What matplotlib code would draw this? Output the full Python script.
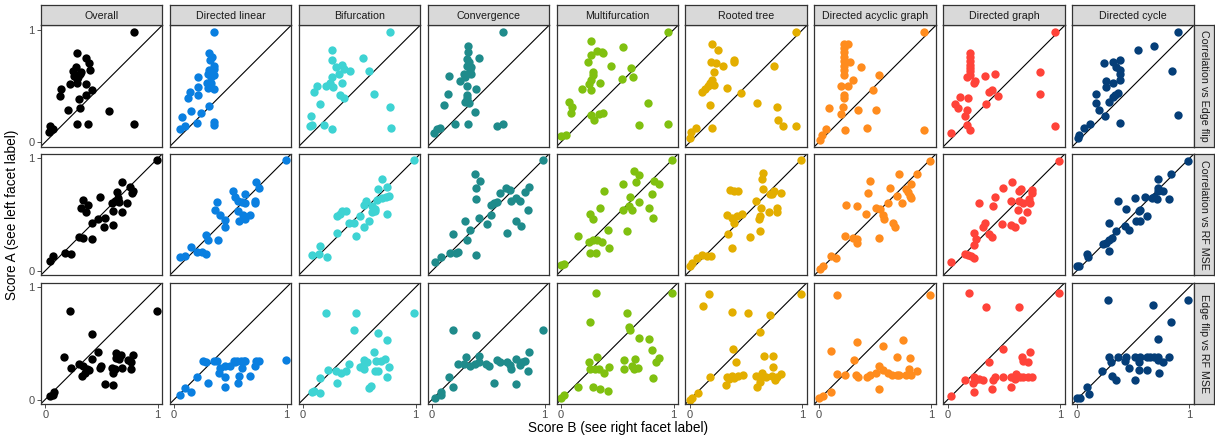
import numpy as np
import matplotlib
matplotlib.use("Agg")
import matplotlib.pyplot as plt

plt.rcParams['font.family'] = ['Liberation Sans', 'DejaVu Sans']

# facet labels
structures = ["Overall", "Directed linear", "Bifurcation", "Convergence", "Multifurcation",
              "Rooted tree", "Directed acyclic graph", "Directed graph", "Directed cycle"]
comparisons = ["Correlation vs Edge flip", "Correlation vs RF MSE", "Edge flip vs RF MSE"]
colors = ["#000000", "#0A7FE0", "#3ED3D3", "#1F8B8B", "#80C010",
          "#E3AE00", "#FF8C1E", "#FF4339", "#053E78"]

# (score B, score A) pairs
# --- row 1: Correlation vs Edge flip
ce_overall = [(0.79, 0.98), (0.28, 0.79), (0.36, 0.75), (0.39, 0.70), (0.27, 0.67), (0.40, 0.64),
              (0.31, 0.61), (0.26, 0.59), (0.28, 0.56), (0.22, 0.52), (0.28, 0.53), (0.36, 0.52),
              (0.14, 0.47), (0.42, 0.46), (0.13, 0.41), (0.36, 0.42), (0.30, 0.38), (0.20, 0.29),
              (0.31, 0.30), (0.57, 0.28), (0.28, 0.16), (0.38, 0.16), (0.79, 0.16), (0.04, 0.14),
              (0.07, 0.12), (0.03, 0.09), (0.32, 0.62), (0.29, 0.58), (0.25, 0.63)]
ce_linear = [(0.35, 0.98), (0.31, 0.79), (0.34, 0.76), (0.32, 0.73), (0.35, 0.68), (0.31, 0.64),
             (0.35, 0.65), (0.30, 0.61), (0.35, 0.60), (0.33, 0.58), (0.21, 0.58), (0.29, 0.53),
             (0.33, 0.53), (0.21, 0.49), (0.30, 0.48), (0.35, 0.47), (0.14, 0.45), (0.21, 0.42),
             (0.12, 0.39), (0.31, 0.32), (0.15, 0.28), (0.24, 0.26), (0.07, 0.22), (0.20, 0.17),
             (0.35, 0.18), (0.35, 0.15), (0.10, 0.14), (0.05, 0.12)]
ce_bifurc = [(0.77, 0.98), (0.26, 0.82), (0.26, 0.73), (0.53, 0.75), (0.35, 0.69), (0.29, 0.67),
             (0.36, 0.65), (0.42, 0.63), (0.59, 0.63), (0.32, 0.61), (0.26, 0.58), (0.24, 0.53),
             (0.35, 0.53), (0.12, 0.50), (0.20, 0.50), (0.27, 0.49), (0.10, 0.45), (0.33, 0.42),
             (0.63, 0.43), (0.36, 0.39), (0.15, 0.34), (0.77, 0.31), (0.07, 0.23), (0.08, 0.15),
             (0.06, 0.14), (0.19, 0.15), (0.26, 0.12), (0.78, 0.13)]
ce_converg = [(0.63, 0.98), (0.32, 0.86), (0.32, 0.80), (0.42, 0.75), (0.31, 0.74), (0.33, 0.71),
              (0.31, 0.68), (0.35, 0.67), (0.34, 0.64), (0.28, 0.61), (0.35, 0.61), (0.15, 0.59),
              (0.29, 0.58), (0.25, 0.54), (0.31, 0.50), (0.39, 0.47), (0.14, 0.43), (0.31, 0.42),
              (0.31, 0.39), (0.29, 0.36), (0.33, 0.35), (0.11, 0.33), (0.38, 0.27), (0.20, 0.16),
              (0.32, 0.16), (0.58, 0.14), (0.63, 0.16), (0.07, 0.13), (0.04, 0.12), (0.02, 0.08)]
ce_multi = [(0.95, 0.98), (0.27, 0.90), (0.55, 0.85), (0.32, 0.81), (0.37, 0.79), (0.27, 0.78),
            (0.24, 0.71), (0.44, 0.68), (0.62, 0.66), (0.28, 0.60), (0.64, 0.58), (0.27, 0.55),
            (0.54, 0.56), (0.35, 0.53), (0.25, 0.52), (0.19, 0.47), (0.27, 0.46), (0.07, 0.36),
            (0.10, 0.31), (0.77, 0.35), (0.09, 0.26), (0.27, 0.24), (0.34, 0.25), (0.37, 0.26),
            (0.29, 0.20), (0.69, 0.15), (0.95, 0.16), (0.04, 0.06), (0.00, 0.05), (0.28, 0.62),
            (0.36, 0.80)]
ce_rooted = [(0.94, 0.98), (0.20, 0.87), (0.25, 0.82), (0.19, 0.71), (0.23, 0.70), (0.29, 0.68),
             (0.39, 0.73), (0.75, 0.68), (0.21, 0.62), (0.20, 0.55), (0.18, 0.53), (0.21, 0.51),
             (0.16, 0.50), (0.33, 0.48), (0.13, 0.47), (0.11, 0.45), (0.45, 0.44), (0.18, 0.33),
             (0.60, 0.35), (0.77, 0.31), (0.78, 0.20), (0.83, 0.14), (0.94, 0.14), (0.20, 0.13),
             (0.05, 0.13), (0.01, 0.09), (0.00, 0.04), (0.39, 0.71)]
ce_dag = [(0.93, 0.98), (0.22, 0.87), (0.26, 0.87), (0.22, 0.84), (0.22, 0.80), (0.22, 0.76),
          (0.22, 0.72), (0.22, 0.68), (0.22, 0.64), (0.22, 0.60), (0.28, 0.71), (0.37, 0.67),
          (0.53, 0.60), (0.30, 0.55), (0.20, 0.50), (0.26, 0.50), (0.48, 0.46), (0.22, 0.42),
          (0.22, 0.39), (0.09, 0.30), (0.21, 0.31), (0.35, 0.29), (0.51, 0.29), (0.20, 0.25),
          (0.06, 0.12), (0.23, 0.11), (0.43, 0.13), (0.93, 0.11), (0.03, 0.06), (0.01, 0.02)]
ce_graph = [(0.95, 0.98), (0.20, 0.79), (0.20, 0.76), (0.20, 0.72), (0.20, 0.69), (0.20, 0.66),
            (0.20, 0.63), (0.20, 0.60), (0.17, 0.58), (0.23, 0.53), (0.24, 0.54), (0.33, 0.59),
            (0.42, 0.61), (0.82, 0.62), (0.37, 0.45), (0.39, 0.46), (0.45, 0.41), (0.82, 0.43),
            (0.11, 0.40), (0.18, 0.39), (0.34, 0.34), (0.06, 0.34), (0.09, 0.30), (0.17, 0.29),
            (0.15, 0.23), (0.17, 0.15), (0.20, 0.11), (0.95, 0.14), (0.03, 0.08)]
ce_cycle = [(0.90, 0.98), (0.69, 0.86), (0.54, 0.82), (0.85, 0.63), (0.38, 0.73), (0.32, 0.71),
            (0.24, 0.70), (0.35, 0.67), (0.38, 0.64), (0.38, 0.61), (0.38, 0.55), (0.32, 0.53),
            (0.26, 0.54), (0.26, 0.49), (0.37, 0.44), (0.34, 0.42), (0.32, 0.40), (0.17, 0.43),
            (0.17, 0.35), (0.29, 0.36), (0.20, 0.29), (0.25, 0.23), (0.90, 0.24), (0.38, 0.17),
            (0.12, 0.16), (0.06, 0.13), (0.02, 0.06), (0.01, 0.04)]

# --- row 2: Correlation vs RF MSE
cr_overall = [(0.99, 0.99), (0.68, 0.79), (0.75, 0.75), (0.77, 0.69), (0.78, 0.71), (0.64, 0.70),
              (0.49, 0.66), (0.34, 0.63), (0.38, 0.59), (0.32, 0.56), (0.36, 0.52), (0.65, 0.65),
              (0.62, 0.62), (0.59, 0.60), (0.66, 0.61), (0.73, 0.60), (0.60, 0.53), (0.68, 0.52),
              (0.47, 0.46), (0.53, 0.47), (0.42, 0.43), (0.52, 0.39), (0.60, 0.41), (0.30, 0.30),
              (0.34, 0.29), (0.42, 0.28), (0.18, 0.16), (0.23, 0.15), (0.07, 0.13), (0.04, 0.09)]
cr_linear = [(0.99, 0.99), (0.73, 0.79), (0.75, 0.74), (0.52, 0.71), (0.63, 0.68), (0.54, 0.66),
             (0.72, 0.62), (0.72, 0.60), (0.57, 0.62), (0.60, 0.61), (0.63, 0.60), (0.38, 0.61),
             (0.36, 0.54), (0.41, 0.50), (0.57, 0.53), (0.61, 0.50), (0.67, 0.50), (0.63, 0.46),
             (0.58, 0.44), (0.45, 0.45), (0.45, 0.39), (0.28, 0.32), (0.30, 0.27), (0.39, 0.27),
             (0.15, 0.21), (0.20, 0.17), (0.25, 0.17), (0.28, 0.15), (0.05, 0.12), (0.10, 0.13)]
cr_bifurc = [(0.99, 0.99), (0.70, 0.82), (0.67, 0.73), (0.75, 0.75), (0.76, 0.67), (0.74, 0.66),
             (0.70, 0.65), (0.66, 0.63), (0.56, 0.62), (0.54, 0.59), (0.61, 0.58), (0.64, 0.55),
             (0.64, 0.53), (0.75, 0.51), (0.61, 0.52), (0.30, 0.49), (0.33, 0.51), (0.38, 0.53),
             (0.51, 0.49), (0.41, 0.43), (0.45, 0.43), (0.59, 0.44), (0.54, 0.39), (0.30, 0.34),
             (0.47, 0.31), (0.15, 0.22), (0.08, 0.14), (0.14, 0.15), (0.21, 0.12), (0.35, 0.53)]
cr_converg = [(0.99, 0.99), (0.38, 0.86), (0.43, 0.80), (0.39, 0.74), (0.39, 0.64), (0.60, 0.69),
              (0.66, 0.74), (0.69, 0.72), (0.86, 0.75), (0.83, 0.70), (0.52, 0.59), (0.55, 0.60),
              (0.58, 0.61), (0.75, 0.65), (0.70, 0.62), (0.78, 0.62), (0.85, 0.54), (0.52, 0.50),
              (0.42, 0.47), (0.49, 0.42), (0.29, 0.44), (0.75, 0.44), (0.79, 0.40), (0.34, 0.36),
              (0.67, 0.34), (0.19, 0.33), (0.31, 0.27), (0.16, 0.16), (0.21, 0.16), (0.23, 0.17),
              (0.39, 0.14), (0.08, 0.12), (0.03, 0.08)]
cr_multi = [(0.99, 0.99), (0.65, 0.89), (0.69, 0.85), (0.67, 0.79), (0.83, 0.80), (0.87, 0.77),
            (0.55, 0.77), (0.38, 0.71), (0.61, 0.66), (0.81, 0.68), (0.69, 0.61), (0.60, 0.58),
            (0.63, 0.54), (0.55, 0.54), (0.78, 0.56), (0.82, 0.47), (0.35, 0.56), (0.26, 0.51),
            (0.28, 0.46), (0.42, 0.36), (0.59, 0.35), (0.15, 0.31), (0.25, 0.26), (0.28, 0.27),
            (0.32, 0.27), (0.36, 0.26), (0.43, 0.20), (0.26, 0.16), (0.31, 0.16), (0.00, 0.05),
            (0.03, 0.06)]
cr_rooted = [(0.99, 0.99), (0.65, 0.87), (0.64, 0.82), (0.36, 0.72), (0.39, 0.71), (0.43, 0.71),
             (0.65, 0.73), (0.71, 0.68), (0.75, 0.71), (0.81, 0.69), (0.73, 0.68), (0.59, 0.62),
             (0.63, 0.56), (0.77, 0.56), (0.70, 0.52), (0.77, 0.52), (0.33, 0.50), (0.37, 0.47),
             (0.42, 0.49), (0.46, 0.51), (0.62, 0.49), (0.61, 0.46), (0.39, 0.43), (0.34, 0.33),
             (0.62, 0.35), (0.53, 0.30), (0.37, 0.20), (0.11, 0.14), (0.15, 0.13), (0.19, 0.13),
             (0.06, 0.11), (0.02, 0.07), (0.00, 0.04)]
cr_dag = [(0.99, 0.98), (0.45, 0.80), (0.71, 0.86), (0.87, 0.86), (0.82, 0.77), (0.63, 0.74),
          (0.44, 0.69), (0.69, 0.67), (0.77, 0.73), (0.79, 0.70), (0.81, 0.67), (0.82, 0.65),
          (0.74, 0.60), (0.61, 0.60), (0.24, 0.59), (0.34, 0.58), (0.51, 0.56), (0.54, 0.55),
          (0.42, 0.51), (0.57, 0.50), (0.58, 0.46), (0.66, 0.43), (0.68, 0.39), (0.23, 0.31),
          (0.30, 0.29), (0.34, 0.28), (0.34, 0.25), (0.53, 0.29), (0.11, 0.13), (0.15, 0.11),
          (0.04, 0.04), (0.01, 0.02)]
cr_graph = [(0.99, 0.98), (0.57, 0.79), (0.49, 0.74), (0.63, 0.71), (0.65, 0.73), (0.75, 0.72),
            (0.75, 0.69), (0.42, 0.66), (0.28, 0.60), (0.40, 0.58), (0.56, 0.62), (0.63, 0.62),
            (0.67, 0.60), (0.72, 0.64), (0.73, 0.60), (0.62, 0.54), (0.70, 0.52), (0.66, 0.45),
            (0.48, 0.42), (0.56, 0.41), (0.60, 0.39), (0.33, 0.43), (0.31, 0.39), (0.37, 0.33),
            (0.39, 0.30), (0.23, 0.34), (0.25, 0.28), (0.23, 0.23), (0.15, 0.15), (0.18, 0.14),
            (0.21, 0.13), (0.23, 0.11), (0.03, 0.08)]
cr_cycle = [(0.99, 0.98), (0.72, 0.82), (0.84, 0.86), (0.72, 0.74), (0.72, 0.71), (0.77, 0.71),
            (0.61, 0.66), (0.67, 0.65), (0.71, 0.64), (0.69, 0.66), (0.82, 0.64), (0.52, 0.65),
            (0.37, 0.62), (0.44, 0.55), (0.55, 0.53), (0.56, 0.54), (0.62, 0.49), (0.53, 0.44),
            (0.56, 0.44), (0.29, 0.43), (0.43, 0.40), (0.46, 0.36), (0.35, 0.35), (0.31, 0.29),
            (0.29, 0.27), (0.23, 0.24), (0.26, 0.25), (0.29, 0.18), (0.09, 0.15), (0.10, 0.12),
            (0.00, 0.04), (0.02, 0.04)]

# --- row 3: Edge flip vs RF MSE
er_overall = [(0.22, 0.79), (0.99, 0.79), (0.42, 0.58), (0.17, 0.38), (0.47, 0.42), (0.63, 0.41),
              (0.67, 0.40), (0.78, 0.40), (0.42, 0.36), (0.63, 0.37), (0.66, 0.36), (0.74, 0.35),
              (0.76, 0.33), (0.30, 0.32), (0.34, 0.30), (0.37, 0.27), (0.39, 0.26), (0.33, 0.21),
              (0.35, 0.24), (0.23, 0.28), (0.50, 0.30), (0.49, 0.28), (0.59, 0.28), (0.62, 0.27),
              (0.68, 0.28), (0.76, 0.27), (0.60, 0.24), (0.53, 0.14), (0.60, 0.13), (0.08, 0.07),
              (0.07, 0.04), (0.04, 0.03)]
er_linear = [(0.99, 0.35), (0.26, 0.34), (0.28, 0.33), (0.35, 0.34), (0.38, 0.34), (0.53, 0.34),
             (0.54, 0.33), (0.56, 0.34), (0.59, 0.34), (0.62, 0.34), (0.63, 0.34), (0.73, 0.34),
             (0.75, 0.34), (0.72, 0.30), (0.45, 0.30), (0.50, 0.30), (0.60, 0.28), (0.41, 0.28),
             (0.40, 0.24), (0.20, 0.20), (0.45, 0.20), (0.58, 0.21), (0.67, 0.21), (0.30, 0.15),
             (0.57, 0.15), (0.45, 0.11), (0.10, 0.10), (0.15, 0.07), (0.05, 0.04)]
er_bifurc = [(0.20, 0.77), (0.47, 0.77), (0.99, 0.77), (0.45, 0.62), (0.67, 0.59), (0.75, 0.53),
             (0.63, 0.42), (0.54, 0.35), (0.57, 0.33), (0.53, 0.30), (0.54, 0.27), (0.41, 0.32),
             (0.65, 0.34), (0.69, 0.34), (0.73, 0.36), (0.51, 0.29), (0.76, 0.29), (0.64, 0.25),
             (0.67, 0.25), (0.75, 0.20), (0.22, 0.26), (0.29, 0.25), (0.34, 0.24), (0.38, 0.25),
             (0.15, 0.19), (0.30, 0.15), (0.59, 0.10), (0.60, 0.12), (0.08, 0.07), (0.10, 0.08),
             (0.15, 0.06)]
er_converg = [(0.99, 0.62), (0.19, 0.62), (0.39, 0.57), (0.42, 0.39), (0.86, 0.42), (0.30, 0.38),
              (0.23, 0.32), (0.28, 0.32), (0.34, 0.30), (0.38, 0.32), (0.42, 0.33), (0.48, 0.32),
              (0.51, 0.30), (0.58, 0.35), (0.60, 0.33), (0.67, 0.33), (0.69, 0.31), (0.70, 0.27),
              (0.75, 0.36), (0.78, 0.31), (0.80, 0.33), (0.83, 0.34), (0.85, 0.25), (0.15, 0.20),
              (0.55, 0.15), (0.75, 0.14), (0.19, 0.11), (0.08, 0.07), (0.08, 0.04), (0.03, 0.01)]
er_multi = [(0.31, 0.95), (0.99, 0.95), (0.59, 0.77), (0.26, 0.69), (0.60, 0.65), (0.61, 0.62),
            (0.69, 0.55), (0.78, 0.54), (0.81, 0.44), (0.87, 0.37), (0.84, 0.33), (0.32, 0.38),
            (0.25, 0.33), (0.56, 0.35), (0.66, 0.36), (0.63, 0.30), (0.65, 0.27), (0.68, 0.28),
            (0.56, 0.27), (0.26, 0.27), (0.30, 0.27), (0.34, 0.27), (0.38, 0.24), (0.43, 0.29),
            (0.82, 0.19), (0.15, 0.11), (0.28, 0.11), (0.35, 0.09), (0.42, 0.08), (0.03, 0.04),
            (0.00, 0.01)]
er_rooted = [(0.17, 0.94), (0.99, 0.94), (0.12, 0.83), (0.37, 0.78), (0.52, 0.77), (0.71, 0.75),
             (0.62, 0.60), (0.38, 0.45), (0.66, 0.39), (0.74, 0.39), (0.41, 0.33), (0.74, 0.29),
             (0.18, 0.20), (0.33, 0.20), (0.37, 0.21), (0.43, 0.21), (0.47, 0.22), (0.35, 0.18),
             (0.39, 0.19), (0.32, 0.13), (0.64, 0.24), (0.59, 0.21), (0.62, 0.20), (0.68, 0.20),
             (0.73, 0.21), (0.77, 0.20), (0.81, 0.23), (0.76, 0.17), (0.62, 0.16), (0.60, 0.11),
             (0.07, 0.06), (0.02, 0.01), (0.00, 0.00)]
er_dag = [(0.16, 0.93), (0.99, 0.93), (0.11, 0.43), (0.34, 0.51), (0.57, 0.48), (0.75, 0.53),
          (0.31, 0.35), (0.69, 0.38), (0.81, 0.37), (0.53, 0.30), (0.16, 0.23), (0.23, 0.22),
          (0.33, 0.22), (0.35, 0.20), (0.43, 0.20), (0.45, 0.22), (0.51, 0.24), (0.57, 0.26),
          (0.61, 0.24), (0.65, 0.22), (0.69, 0.22), (0.71, 0.22), (0.77, 0.22), (0.80, 0.27),
          (0.82, 0.22), (0.87, 0.25), (0.53, 0.09), (0.11, 0.07), (0.04, 0.03), (0.00, 0.01)]
er_graph = [(0.19, 0.95), (0.99, 0.95), (0.34, 0.82), (0.63, 0.82), (0.49, 0.45), (0.73, 0.42),
            (0.66, 0.38), (0.67, 0.34), (0.71, 0.33), (0.37, 0.33), (0.15, 0.17), (0.23, 0.20),
            (0.24, 0.17), (0.22, 0.15), (0.28, 0.18), (0.31, 0.17), (0.40, 0.17), (0.42, 0.20),
            (0.49, 0.20), (0.56, 0.20), (0.60, 0.18), (0.61, 0.23), (0.64, 0.20), (0.67, 0.20),
            (0.71, 0.20), (0.75, 0.20), (0.23, 0.07), (0.39, 0.09), (0.56, 0.11), (0.03, 0.03)]
er_cycle = [(0.28, 0.89), (0.99, 0.89), (0.68, 0.84), (0.84, 0.69), (0.72, 0.54), (0.29, 0.38),
            (0.37, 0.38), (0.44, 0.38), (0.52, 0.38), (0.56, 0.38), (0.62, 0.38), (0.65, 0.38),
            (0.69, 0.38), (0.72, 0.38), (0.82, 0.38), (0.30, 0.33), (0.43, 0.34), (0.46, 0.28),
            (0.55, 0.33), (0.77, 0.33), (0.72, 0.35), (0.55, 0.26), (0.62, 0.26), (0.22, 0.25),
            (0.73, 0.24), (0.31, 0.21), (0.35, 0.17), (0.52, 0.17), (0.09, 0.11), (0.11, 0.05),
            (0.00, 0.01), (0.03, 0.01)]

panels = [
    [ce_overall, ce_linear, ce_bifurc, ce_converg, ce_multi, ce_rooted, ce_dag, ce_graph, ce_cycle],
    [cr_overall, cr_linear, cr_bifurc, cr_converg, cr_multi, cr_rooted, cr_dag, cr_graph, cr_cycle],
    [er_overall, er_linear, er_bifurc, er_converg, er_multi, er_rooted, er_dag, er_graph, er_cycle],
]

W, H = 1215, 442
fig = plt.figure(figsize=(W / 100, H / 100), dpi=100)

# panel grid in pixels
left0, top0 = 40.7, 25.3
pw, ph = 121.5, 121.3
dx, dy = 128.95, 128.7
lim = (-0.04, 1.04)
edge = "#333333"
strip_fc = "#D9D9D9"


def px_axes(x, y, w, h):
    return fig.add_axes([x / W, 1 - (y + h) / H, w / W, h / H])


for r in range(3):
    for c in range(9):
        x0 = left0 + c * dx
        y0 = top0 + r * dy
        ax = px_axes(x0, y0, pw, ph)
        pts = np.array(panels[r][c])
        ax.axline((0, 0), (1, 1), color="black", lw=0.8, zorder=1)
        ax.scatter(pts[:, 0], pts[:, 1], s=36, color=colors[c], linewidths=0, zorder=2)
        ax.set_xlim(lim)
        ax.set_ylim(lim)
        for sp in ax.spines.values():
            sp.set_color(edge)
            sp.set_linewidth(0.9)
        ax.tick_params(length=3, width=0.6, color=edge, labelcolor="#4D4D4D",
                       labelsize=8, pad=1.5)
        if c == 0:
            ax.set_yticks([0, 1])
            ax.set_yticklabels(["0", "1"])
        else:
            ax.set_yticks([])
        if r == 2:
            ax.set_xticks([0, 1])
            ax.set_xticklabels(["0", "1"])
        else:
            ax.set_xticks([])

# top strips
for c, name in enumerate(structures):
    sx = px_axes(left0 + c * dx, 4.7, pw, 20.6)
    sx.set_facecolor(strip_fc)
    sx.set_xticks([])
    sx.set_yticks([])
    for sp in sx.spines.values():
        sp.set_color(edge)
        sp.set_linewidth(0.9)
    sx.text(0.5, 0.47, name, ha="center", va="center", fontsize=7.7,
            color="#1A1A1A", transform=sx.transAxes)

# right strips
for r, name in enumerate(comparisons):
    sx = px_axes(left0 + 8 * dx + pw, top0 + r * dy, 20.5, ph)
    sx.set_facecolor(strip_fc)
    sx.set_xticks([])
    sx.set_yticks([])
    for sp in sx.spines.values():
        sp.set_color(edge)
        sp.set_linewidth(0.9)
    sx.text(0.5, 0.5, name, ha="center", va="center", rotation=-90, fontsize=7.7,
            color="#1A1A1A", transform=sx.transAxes)

fig.text(618 / W, 1 - 428 / H, "Score B (see right facet label)", ha="center", va="center",
         fontsize=9.8, color="black")
fig.text(12 / W, 1 - 215 / H, "Score A (see left facet label)", ha="center", va="center",
         rotation=90, fontsize=9.8, color="black")

fig.savefig("out.png", dpi=100)
